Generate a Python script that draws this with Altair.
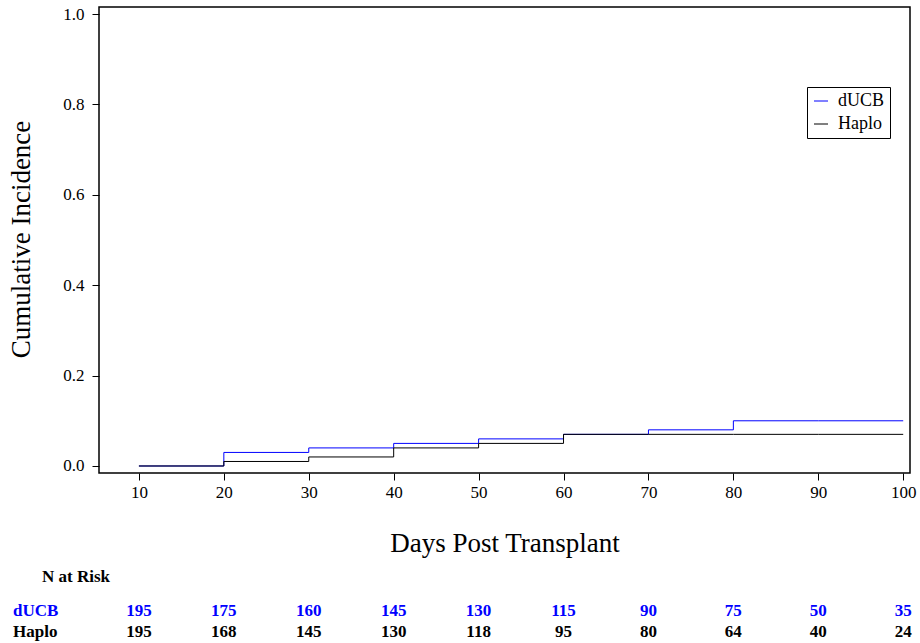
import altair as alt
import pandas as pd

# Cumulative incidence step curves by donor type
days = [10, 20, 30, 40, 50, 60, 70, 80, 90, 100]
ducb_ci = [0.00, 0.03, 0.04, 0.05, 0.06, 0.07, 0.08, 0.10, 0.10, 0.10]
haplo_ci = [0.00, 0.01, 0.02, 0.04, 0.05, 0.07, 0.07, 0.07, 0.07, 0.07]

# Number at risk at each tick
ducb_risk = [195, 175, 160, 145, 130, 115, 90, 75, 50, 35]
haplo_risk = [195, 168, 145, 130, 118, 95, 80, 64, 40, 24]

groups = ["dUCB", "Haplo"]
colors = ["#0000FF", "#000000"]

FONT = "Liberation Serif"
W, H = 811, 466
PAD_L, PAD_T = 99, 7

curves = pd.DataFrame(
    {
        "day": days * 2,
        "ci": ducb_ci + haplo_ci,
        "group": ["dUCB"] * len(days) + ["Haplo"] * len(days),
    }
)
risk_ducb = pd.DataFrame({"day": days, "n": ducb_risk})
risk_haplo = pd.DataFrame({"day": days, "n": haplo_risk})

x_scale = alt.Scale(domain=[5.3, 100.8], nice=False, zero=False)
y_scale = alt.Scale(domain=[-0.0155, 1.0155], nice=False, zero=False)

x_axis = alt.Axis(
    values=days,
    title="Days Post Transplant",
    titleFont=FONT,
    titleFontSize=27,
    titleFontWeight="normal",
    titleColor="black",
    titleX=W / 2,
    titleY=78,
    titleAlign="center",
    titleBaseline="alphabetic",
    labelFont=FONT,
    labelFontSize=17,
    labelColor="black",
    labelPadding=4,
    tickSize=7,
    tickColor="black",
    tickWidth=1,
    domain=False,
    grid=False,
)
y_axis = alt.Axis(
    values=[0.0, 0.2, 0.4, 0.6, 0.8, 1.0],
    format=".1f",
    title="Cumulative Incidence",
    titleFont=FONT,
    titleFontSize=27,
    titleFontWeight="normal",
    titleColor="black",
    titleAngle=270,
    titleX=-70,
    titleY=H / 2 - 1,
    titleAlign="center",
    titleBaseline="alphabetic",
    labelFont=FONT,
    labelFontSize=17,
    labelColor="black",
    labelPadding=8,
    tickSize=7,
    tickColor="black",
    tickWidth=1,
    domain=False,
    grid=False,
)

lines = (
    alt.Chart(curves)
    .mark_line(interpolate="step-after", strokeWidth=1)
    .encode(
        x=alt.X("day:Q", scale=x_scale, axis=x_axis),
        y=alt.Y("ci:Q", scale=y_scale, axis=y_axis),
        color=alt.Color(
            "group:N",
            scale=alt.Scale(domain=groups, range=colors),
            legend=alt.Legend(
                title=None,
                orient="none",
                legendX=708,
                legendY=80,
                strokeColor="black",
                fillColor="white",
                padding=5,
                rowPadding=5,
                labelFont=FONT,
                labelFontSize=18,
                labelColor="black",
                labelOffset=8,
                symbolType="stroke",
                symbolSize=196,
                symbolStrokeWidth=1,
            ),
        ),
    )
)

# Number-at-risk table under the axis
risk_header = (
    alt.Chart(pd.DataFrame({"t": ["N at Risk"]}))
    .mark_text(font=FONT, fontSize=17, fontWeight="bold", align="left",
               baseline="alphabetic", color="black")
    .encode(x=alt.value(42 - PAD_L), y=alt.value(582 - PAD_T), text="t:N")
)

row_labels = (
    alt.Chart(pd.DataFrame({"t": groups, "c": colors, "yy": [616 - PAD_T, 637 - PAD_T]}))
    .mark_text(font=FONT, fontSize=17, fontWeight="bold", align="left",
               baseline="alphabetic")
    .encode(
        x=alt.value(13 - PAD_L),
        y=alt.Y("yy:Q", scale=None),
        text="t:N",
        color=alt.Color("c:N", scale=None),
    )
)

ducb_row = (
    alt.Chart(risk_ducb)
    .mark_text(font=FONT, fontSize=17, fontWeight="bold", align="center",
               baseline="alphabetic", color=colors[0])
    .encode(x=alt.X("day:Q", scale=x_scale), y=alt.value(616 - PAD_T), text="n:Q")
)
haplo_row = (
    alt.Chart(risk_haplo)
    .mark_text(font=FONT, fontSize=17, fontWeight="bold", align="center",
               baseline="alphabetic", color=colors[1])
    .encode(x=alt.X("day:Q", scale=x_scale), y=alt.value(637 - PAD_T), text="n:Q")
)

chart = (
    alt.layer(lines, risk_header, row_labels, ducb_row, haplo_row)
    .properties(
        width=W,
        height=H,
        autosize=alt.AutoSizeParams(type="none"),
        padding={"left": PAD_L, "top": PAD_T, "right": 920 - PAD_L - W, "bottom": 643 - PAD_T - H},
        background="white",
    )
    .configure(font=FONT)
    .configure_view(stroke="black", strokeWidth=1.5)
)

chart.save("out.html", embed_options={"renderer": "svg", "actions": False})
